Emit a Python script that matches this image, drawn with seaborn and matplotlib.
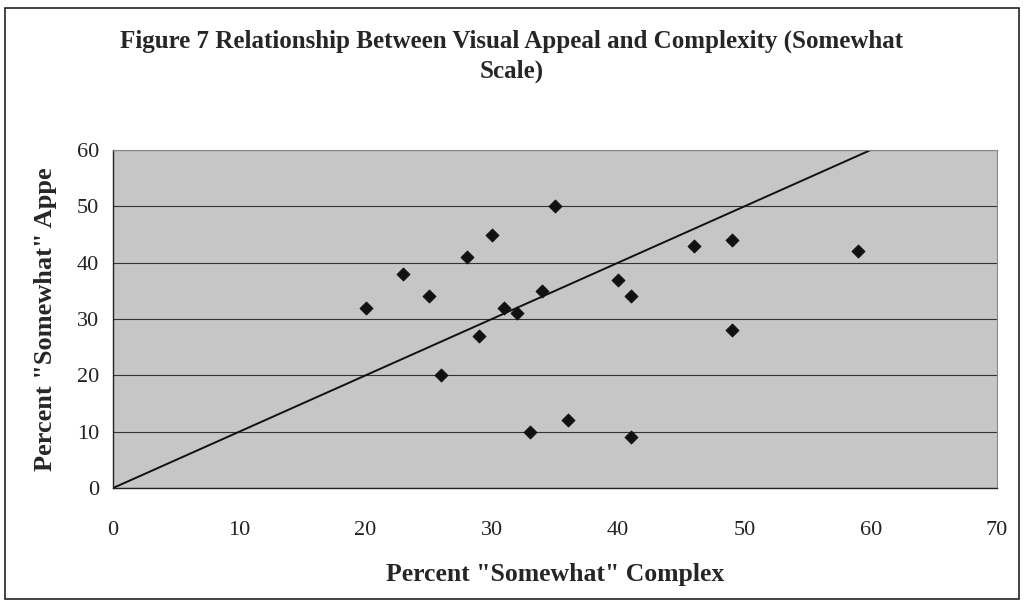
import pandas as pd
import seaborn as sns
import matplotlib.pyplot as plt
from matplotlib.patches import Rectangle

# 데이터
complex_pct = [20, 23, 25, 26, 28, 29, 30, 31, 32, 33, 34, 35, 36, 40, 41, 41, 46, 49, 49, 59]
appeal_pct = [32, 38, 34, 20, 41, 27, 45, 32, 31, 10, 35, 50, 12, 37, 34, 9, 43, 44, 28, 42]
ref_x = [0, 60]
ref_y = [0, 60]
x_ticks = [0, 10, 20, 30, 40, 50, 60, 70]
y_ticks = [0, 10, 20, 30, 40, 50, 60]

df = pd.DataFrame({'complex': complex_pct, 'appeal': appeal_pct})
ref = pd.DataFrame({'x': ref_x, 'y': ref_y})

sns.set_theme(style='white')
plt.rcParams['font.family'] = ['Liberation Serif', 'DejaVu Serif']

fig = plt.figure(figsize=(10.24, 6.01), dpi=100)
ax = fig.add_axes([0.1104, 0.188, 0.8632, 0.5624])
ax.set_facecolor('#c6c6c6')

# 대각선 기준선
sns.lineplot(data=ref, x='x', y='y', color='#111111', linewidth=1.4, ax=ax)
sns.scatterplot(data=df, x='complex', y='appeal', marker='D', s=45, color='#111111',
                edgecolor='#111111', ax=ax, zorder=3)

ax.set_xlim(0, 70)
ax.set_ylim(0, 60)
ax.set_xticks(x_ticks)
ax.set_yticks(y_ticks)
ax.tick_params(axis='both', labelsize=16, colors='#222222', length=4, width=0.8, direction='out')
ax.tick_params(axis='x', pad=20)
ax.tick_params(axis='y', pad=6)
ax.yaxis.grid(True, color='#333333', linewidth=0.8)
ax.set_axisbelow(True)

for side in ['top', 'right']:
    ax.spines[side].set_color('#888888')
    ax.spines[side].set_linewidth(0.8)
for side in ['left', 'bottom']:
    ax.spines[side].set_color('#222222')
    ax.spines[side].set_linewidth(1.0)

ax.set_xlabel('Percent "Somewhat" Complex', fontsize=18.5, fontweight='bold', labelpad=16)
ax.set_ylabel('Percent "Somewhat" Appe', fontsize=19, fontweight='bold', labelpad=14)

fig.text(0.5, 0.932, 'Figure 7 Relationship Between Visual Appeal and Complexity (Somewhat',
         ha='center', va='center', fontsize=18, fontweight='bold')
fig.text(0.5, 0.882, 'Scale)', ha='center', va='center', fontsize=18, fontweight='bold')

# 바깥 테두리
fig.patches.append(Rectangle((0.005, 0.004), 0.99, 0.982, transform=fig.transFigure,
                             fill=False, edgecolor='#222222', linewidth=1.2))

fig.savefig('out.png', dpi=100)
